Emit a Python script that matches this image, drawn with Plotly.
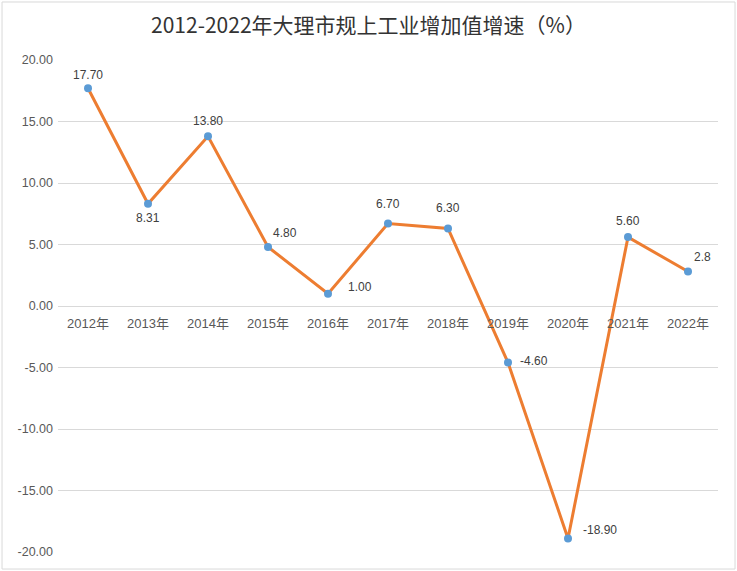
import plotly.graph_objects as go

years = ["2012年", "2013年", "2014年", "2015年", "2016年", "2017年",
         "2018年", "2019年", "2020年", "2021年", "2022年"]
growth = [17.70, 8.31, 13.80, 4.80, 1.00, 6.70, 6.30, -4.60, -18.90, 5.60, 2.8]
labels = ["17.70", "8.31", "13.80", "4.80", "1.00", "6.70", "6.30",
          "-4.60", "-18.90", "5.60", "2.8"]
y_ticks = [-20, -15, -10, -5, 0, 5, 10, 15, 20]
y_tick_text = ["-20.00", "-15.00", "-10.00", "-5.00", "0.00",
               "5.00", "10.00", "15.00", "20.00"]

# label offsets (px) from each point, like the Excel data labels
label_dx = [0, 0, 0, 17, 32, 0, 0, 26, 32, 0, 14]
label_dy = [13, -14, 15, 14, 7, 20, 21, 2, 8, 16, 15]

fig = go.Figure()
fig.add_trace(go.Scatter(
    x=years, y=growth,
    mode="lines+markers",
    line=dict(color="#ED7D31", width=3),
    marker=dict(color="#5B9BD5", size=8),
    cliponaxis=False,
    showlegend=False,
    hoverinfo="x+y",
))

for yr, val, txt, dx, dy in zip(years, growth, labels, label_dx, label_dy):
    fig.add_annotation(
        x=yr, y=val, text=txt, showarrow=False,
        xanchor="center", yanchor="middle",
        xshift=dx, yshift=dy,
        font=dict(family="Liberation Sans", size=12, color="#404040"),
    )

fig.update_layout(
    width=737, height=571,
    margin=dict(l=58, r=19, t=60, b=19),
    paper_bgcolor="white",
    plot_bgcolor="white",
    title=dict(
        text="2012-2022年大理市规上工业增加值增速（%）",
        x=0.5, xanchor="center", y=0.955, yanchor="middle",
        font=dict(family="Noto Sans CJK SC", size=21, color="#333333"),
    ),
    xaxis=dict(
        anchor="free", position=0.5,
        showgrid=False, showline=False, zeroline=False,
        ticks="", ticklabelstandoff=8,
        tickfont=dict(family="Liberation Sans, Noto Sans CJK SC", size=13, color="#595959"),
        range=[-0.5, 10.5],
    ),
    yaxis=dict(
        range=[-20, 20], tickvals=y_ticks, ticktext=y_tick_text,
        showgrid=True, gridcolor="#D9D9D9", gridwidth=1,
        zeroline=False, showline=False, ticks="", ticklabelstandoff=4,
        tickfont=dict(family="Liberation Sans", size=12.5, color="#595959"),
    ),
    shapes=[dict(
        type="rect", xref="paper", yref="paper",
        x0=-0.0848, x1=1.0258, y0=-0.0346, y1=1.1179,
        line=dict(color="#D9D9D9", width=1),
    )],
)

fig.write_html("out.html", config={"displayModeBar": False},
               post_script="document.body.style.margin='0px';")
